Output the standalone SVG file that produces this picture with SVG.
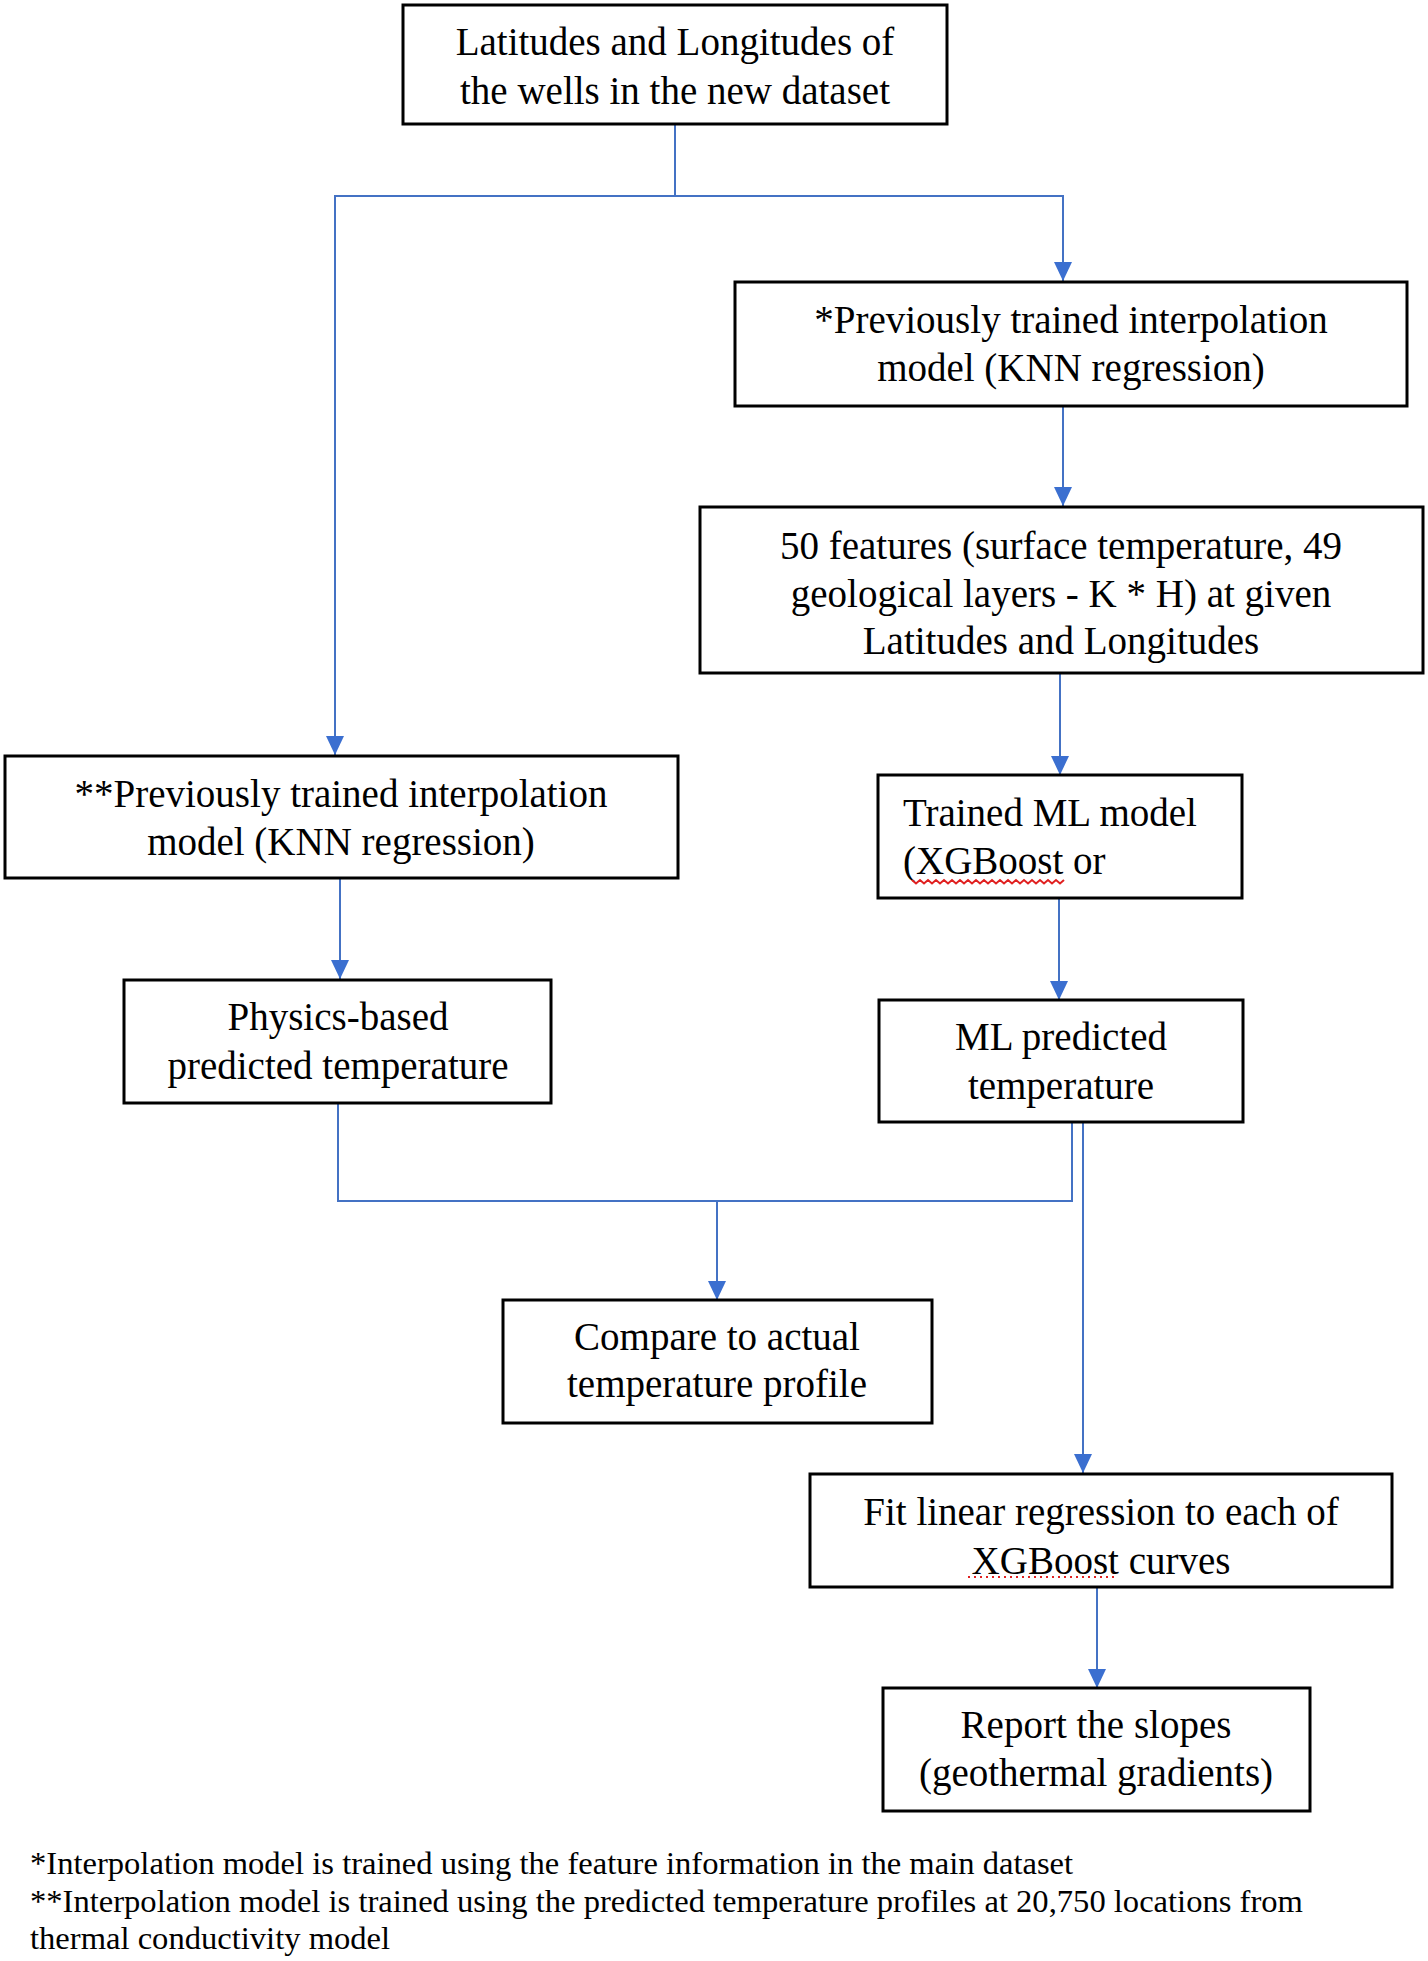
<svg xmlns="http://www.w3.org/2000/svg" width="1428" height="1961" viewBox="0 0 1428 1961">
<style>
.box{fill:#fff;stroke:#000;stroke-width:3}
.t{font-family:"Liberation Serif","Times New Roman",serif;font-size:39px;fill:#000;text-anchor:middle}
.tl{text-anchor:start}
.fn{font-family:"Liberation Serif","Times New Roman",serif;font-size:32.6px;fill:#000}
.c{fill:none;stroke:#4472C4;stroke-width:2}
</style>
<defs>
<marker id="ahd" markerUnits="userSpaceOnUse" markerWidth="20" markerHeight="20" viewBox="0 0 20 20" refX="19" refY="10" orient="auto">
<path d="M0,1 L19,10 L0,19 Z" fill="#3B6FD0"/>
</marker>
</defs>
<rect width="1428" height="1961" fill="#fff"/>
<g id="connectors">
<path class="c" d="M675,124 V196 H335 V755" marker-end="url(#ahd)"/>
<path class="c" d="M675,196 H1063 V281" marker-end="url(#ahd)"/>
<path class="c" d="M1063,405 V506" marker-end="url(#ahd)"/>
<path class="c" d="M1060,673 V775" marker-end="url(#ahd)"/>
<path class="c" d="M1059,898 V1000" marker-end="url(#ahd)"/>
<path class="c" d="M340,878 V979" marker-end="url(#ahd)"/>
<path class="c" d="M338,1103 V1201 H1072 V1122"/>
<path class="c" d="M717,1201 V1300" marker-end="url(#ahd)"/>
<path class="c" d="M1083,1122 V1473" marker-end="url(#ahd)"/>
<path class="c" d="M1097,1587 V1688" marker-end="url(#ahd)"/>
</g>
<g id="n1">
<rect class="box" x="403" y="5" width="544" height="119"/>
<text class="t" x="675" y="55">Latitudes and Longitudes of</text>
<text class="t" x="675" y="104">the wells in the new dataset</text>
</g>
<g id="n2">
<rect class="box" x="735" y="282" width="672" height="124"/>
<text class="t" x="1071" y="333">*Previously trained interpolation</text>
<text class="t" x="1071" y="381">model (KNN regression)</text>
</g>
<g id="n3">
<rect class="box" x="700" y="507" width="723" height="166"/>
<text class="t" x="1061" y="559">50 features (surface temperature, 49</text>
<text class="t" x="1061" y="607">geological layers - K * H) at given</text>
<text class="t" x="1061" y="654">Latitudes and Longitudes</text>
</g>
<g id="n4">
<rect class="box" x="878" y="775" width="364" height="123"/>
<text class="t tl" x="903" y="826">Trained ML model</text>
<text class="t tl" x="903" y="874">(XGBoost or</text>
<path d="M912,880 l4,3.5 l4,-3.5 l4,3.5 l4,-3.5 l4,3.5 l4,-3.5 l4,3.5 l4,-3.5 l4,3.5 l4,-3.5 l4,3.5 l4,-3.5 l4,3.5 l4,-3.5 l4,3.5 l4,-3.5 l4,3.5 l4,-3.5 l4,3.5 l4,-3.5 l4,3.5 l4,-3.5 l4,3.5 l4,-3.5 l4,3.5 l4,-3.5 l4,3.5 l4,-3.5 l4,3.5 l4,-3.5 l4,3.5 l4,-3.5 l4,3.5 l4,-3.5 l4,3.5 l4,-3.5 l4,3.5 l4,-3.5" fill="none" stroke="#E02020" stroke-width="2"/>
</g>
<g id="n5">
<rect class="box" x="879" y="1000" width="364" height="122"/>
<text class="t" x="1061" y="1050">ML predicted</text>
<text class="t" x="1061" y="1099">temperature</text>
</g>
<g id="n6">
<rect class="box" x="5" y="756" width="673" height="122"/>
<text class="t" x="341" y="807">**Previously trained interpolation</text>
<text class="t" x="341" y="855">model (KNN regression)</text>
</g>
<g id="n7">
<rect class="box" x="124" y="980" width="427" height="123"/>
<text class="t" x="338" y="1030">Physics-based</text>
<text class="t" x="338" y="1079">predicted temperature</text>
</g>
<g id="n8">
<rect class="box" x="503" y="1300" width="429" height="123"/>
<text class="t" x="717" y="1350">Compare to actual</text>
<text class="t" x="717" y="1397">temperature profile</text>
</g>
<g id="n9">
<rect class="box" x="810" y="1474" width="582" height="113"/>
<text class="t" x="1101" y="1525">Fit linear regression to each of</text>
<text class="t" x="1101" y="1574">XGBoost curves</text>
<line x1="968" y1="1577" x2="1117" y2="1577" stroke="#E02020" stroke-width="2" stroke-dasharray="2,4"/>
</g>
<g id="n10">
<rect class="box" x="883" y="1688" width="427" height="123"/>
<text class="t" x="1096" y="1738">Report the slopes</text>
<text class="t" x="1096" y="1786">(geothermal gradients)</text>
</g>
<g id="notes">
<text class="fn" x="30" y="1874">*Interpolation model is trained using the feature information in the main dataset</text>
<text class="fn" x="30" y="1912">**Interpolation model is trained using the predicted temperature profiles at 20,750 locations from</text>
<text class="fn" x="30" y="1949">thermal conductivity model</text>
</g>
</svg>
